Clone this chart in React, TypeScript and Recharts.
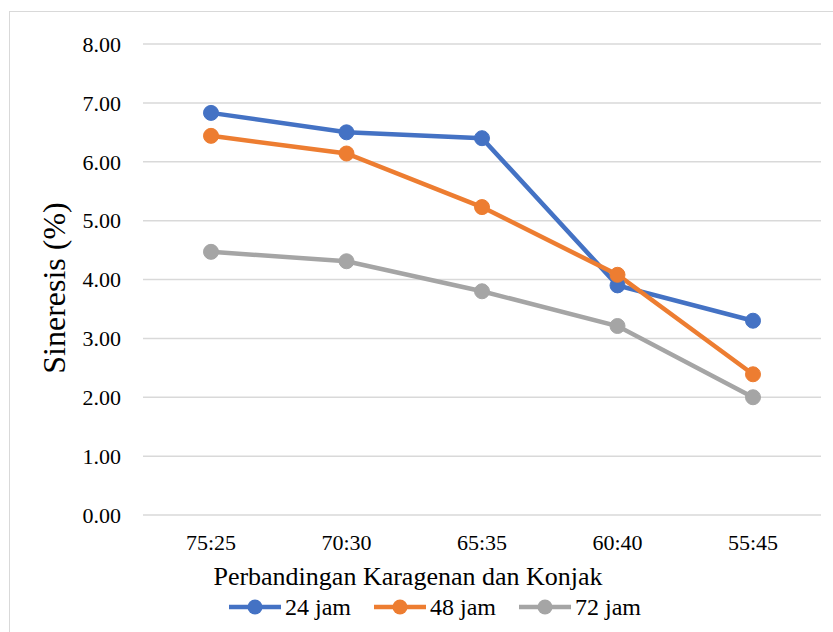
import { LineChart, Line, XAxis, YAxis, CartesianGrid, Label } from 'recharts';

// Sineresis (%) per perbandingan karagenan : konjak
const categories = ['75:25', '70:30', '65:35', '60:40', '55:45'];
const jam24 = [6.83, 6.5, 6.4, 3.9, 3.3];
const jam48 = [6.44, 6.14, 5.23, 4.08, 2.39];
const jam72 = [4.47, 4.31, 3.8, 3.21, 2.0];
const yTicks = [0, 1, 2, 3, 4, 5, 6, 7, 8];

const seriesNames = ['24 jam', '48 jam', '72 jam'];
const seriesKeys = ['j24', 'j48', 'j72'];
const seriesColors = ['#4472C4', '#ED7D31', '#A5A5A5'];

const FONT = '"Liberation Serif", "Times New Roman", serif';

const data = categories.map((c, i) => ({
  name: c,
  j24: jam24[i],
  j48: jam48[i],
  j72: jam72[i],
}));

function LegendRow() {
  return (
    <div
      style={{
        position: 'absolute',
        left: 229,
        top: 594,
        display: 'flex',
        alignItems: 'center',
        gap: 23,
        fontFamily: FONT,
        fontSize: 24,
        color: '#000',
        lineHeight: '26px',
      }}
    >
      {seriesNames.map((n, i) => (
        <div key={n} style={{ display: 'flex', alignItems: 'center' }}>
          <svg width={52} height={16} style={{ marginRight: 4 }}>
            <line x1={0} y1={8} x2={52} y2={8} stroke={seriesColors[i]} strokeWidth={4.5} />
            <circle cx={26} cy={8} r={7.5} fill={seriesColors[i]} />
          </svg>
          <span>{n}</span>
        </div>
      ))}
    </div>
  );
}

export default function App() {
  return (
    <div
      style={{
        position: 'absolute',
        left: 0,
        top: 0,
        width: 833,
        height: 632,
        overflow: 'hidden',
        background: '#fff',
      }}
    >
      <div
        style={{
          position: 'absolute',
          left: 9,
          top: 11,
          width: 900,
          height: 700,
          border: '1.5px solid #d9d9d9',
        }}
      />
      <LineChart
        width={833}
        height={632}
        data={data}
        margin={{ top: 44, right: 12, left: 0, bottom: 40 }}
        style={{ fontFamily: FONT }}
      >
        <CartesianGrid vertical={false} stroke="#d9d9d9" strokeWidth={1.5} />
        <XAxis
          dataKey="name"
          height={77}
          padding={{ left: 68, right: 68 }}
          axisLine={false}
          tickLine={false}
          tickSize={0}
          tickMargin={19}
          tick={{ fill: '#000', fontSize: 22, fontFamily: FONT }}
        >
          <Label
            content={() => (
              <text x={408} y={585} textAnchor="middle" fill="#000" fontSize={26} fontFamily={FONT}>
                Perbandingan Karagenan dan Konjak
              </text>
            )}
          />
        </XAxis>
        <YAxis
          width={143}
          domain={[0, 8]}
          ticks={yTicks}
          interval={0}
          axisLine={false}
          tickLine={false}
          tickSize={0}
          tickMargin={22}
          tickFormatter={(v: number) => v.toFixed(2)}
          tick={{ fill: '#000', fontSize: 22, fontFamily: FONT }}
        >
          <Label
            content={() => (
              <text
                x={65}
                y={288}
                transform="rotate(-90, 65, 288)"
                textAnchor="middle"
                fill="#000"
                fontSize={32}
                fontFamily={FONT}
              >
                Sineresis (%)
              </text>
            )}
          />
        </YAxis>
        {seriesKeys.map((k, i) => (
          <Line
            key={k}
            type="linear"
            dataKey={k}
            name={seriesNames[i]}
            stroke={seriesColors[i]}
            strokeWidth={4.5}
            dot={{ r: 7.5, fill: seriesColors[i], stroke: seriesColors[i], strokeWidth: 1 }}
            activeDot={false}
            isAnimationActive={false}
          />
        ))}
      </LineChart>
      <LegendRow />
    </div>
  );
}
